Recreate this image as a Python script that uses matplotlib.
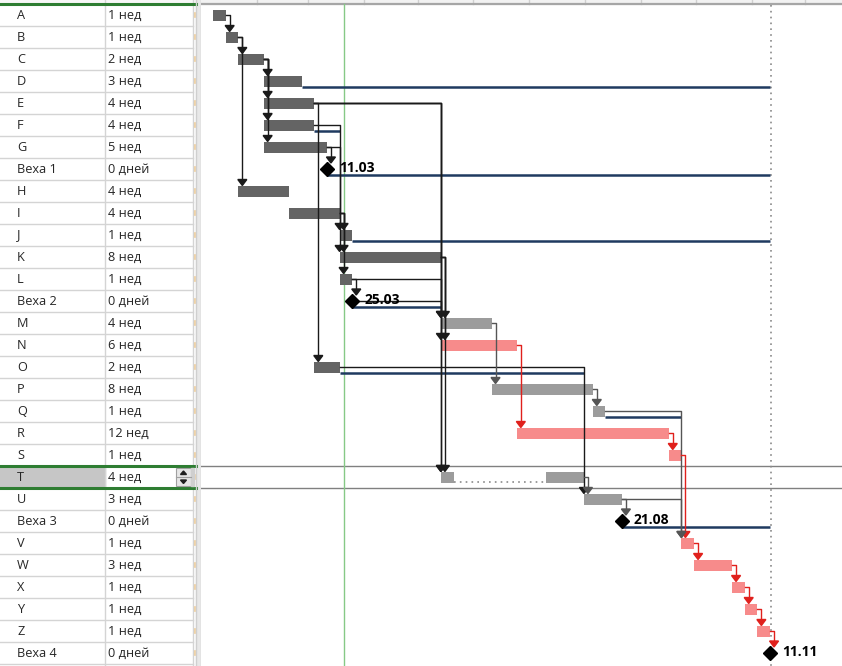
import matplotlib
matplotlib.use("Agg")
import matplotlib.pyplot as plt
from matplotlib.patches import Polygon, Rectangle

plt.rcParams['font.family'] = ['Open Sans', 'DejaVu Sans']

# ---------------- data ----------------
tasks = ["A", "B", "C", "D", "E", "F", "G", "Веха 1", "H", "I", "J", "K", "L", "Веха 2",
         "M", "N", "O", "P", "Q", "R", "S", "T", "U", "Веха 3", "V", "W", "X", "Y", "Z", "Веха 4"]
durations = ["1 нед", "1 нед", "2 нед", "3 нед", "4 нед", "4 нед", "5 нед", "0 дней", "4 нед", "4 нед",
             "1 нед", "8 нед", "1 нед", "0 дней", "4 нед", "6 нед", "2 нед", "8 нед", "1 нед", "12 нед",
             "1 нед", "4 нед", "3 нед", "0 дней", "1 нед", "3 нед", "1 нед", "1 нед", "1 нед", "0 дней"]
starts = [0, 1, 2, 4, 4, 4, 4, 9, 2, 6, 10, 10, 10, 11,
          18, 18, 8, 22, 30, 24, 36, 18, 29.3, 32.3, 37, 38, 41, 42, 43, 44]
weeks = [1, 1, 2, 3, 4, 4, 5, 0, 4, 4, 1, 8, 1, 0,
         4, 6, 2, 8, 1, 12, 1, 4, 3, 0, 1, 3, 1, 1, 1, 0]
# d = dark (done/normal), l = light, c = critical
kind = ["d"] * 14 + ["l", "c", "d", "l", "l", "c", "c", "l", "l", "l", "c", "c", "c", "c", "c", "c"]
split_segments = {"T": [(18, 1), (26.3, 3)]}
milestone_labels = {"Веха 1": "11.03", "Веха 2": "25.03", "Веха 3": "21.08", "Веха 4": "11.11"}
slack_end = {"D": 44, "F": 10, "Веха 1": 44, "J": 44, "Веха 2": 18, "O": 29.3, "Q": 37, "Веха 3": 44}
links = [("A", "B"), ("B", "C"), ("B", "H"), ("C", "D"), ("C", "E"), ("C", "F"), ("C", "G"),
         ("G", "Веха 1"), ("F", "J"), ("G", "K"), ("I", "J"), ("I", "K"), ("I", "L"),
         ("E", "O"), ("E", "M"), ("E", "N"), ("E", "T"), ("K", "M"), ("K", "N"), ("K", "T"),
         ("L", "Веха 2"), ("L", "M"), ("Веха 2", "T"), ("O", "U"), ("M", "P"), ("N", "R"),
         ("P", "Q"), ("Q", "V"), ("R", "S"), ("S", "V"), ("T", "U"), ("U", "Веха 3"), ("U", "V"),
         ("V", "W"), ("W", "X"), ("X", "Y"), ("Y", "Z"), ("Z", "Веха 4")]
header_ticks = [3.48, 7.5, 11.93, 16.19, 20.5, 24.96, 29.4, 33.8, 38.15, 42.6, 46.8]
status_date = 10.35
project_end = 44.1
selected = "T"

bar_color = {"d": "#646464", "l": "#9c9c9c", "c": "#f78b8b"}
link_color = {"d": "#1a1a1a", "l": "#555555", "c": "#e0201c"}
navy = "#1f3a60"

# ---------------- layout ----------------
W, H = 842, 666
ROW_PX, ROW0 = 22, 15
PXW, X0, GL = 12.66, 213, 201
ytop, ybot = -ROW0 / ROW_PX, (H - ROW0) / ROW_PX

def px_w(p):
    return p / PXW

def px_r(p):
    return p / ROW_PX

fig = plt.figure(figsize=(W / 100, H / 100), dpi=100)
axT = fig.add_axes([0, 0, GL / W, 1])
axT.set_xlim(0, GL)
axT.set_ylim(ybot, ytop)
axT.axis('off')
axG = fig.add_axes([GL / W, 0, 1 - GL / W, 1])
axG.set_xlim((GL - X0) / PXW, (W - X0) / PXW)
axG.set_ylim(ybot, ytop)
axG.axis('off')

n = len(tasks)
idx = {t: i for i, t in enumerate(tasks)}
sel = idx[selected]

# ---------------- table ----------------
axT.add_patch(Rectangle((0, ytop), 196, -0.5 - ytop, color="#f7f7f7", zorder=0))
axT.add_patch(Rectangle((0, sel - 0.5), 105, 1, color="#c6c6c6", zorder=0))
for r in range(n):
    axT.plot([0, 193], [r + 0.5, r + 0.5], color="#d4d4d4", lw=1, zorder=1)
    axT.text(17, r, tasks[r], va="center", ha="left", fontsize=9.2, color="#262626")
    axT.text(108, r, durations[r], va="center", ha="left", fontsize=9.2, color="#262626")
    axT.plot([195, 195], [r - px_r(2), r + px_r(2)], color="#f3c98a", lw=1.2, zorder=2)
axT.plot([105, 105], [-0.5, ybot], color="#d4d4d4", lw=1)
axT.plot([193, 193], [ytop, ybot], color="#d4d4d4", lw=1)
axT.plot([105, 105], [ytop, -0.5], color="#d4d4d4", lw=1)
axT.plot([0, 196], [-0.5, -0.5], color="#2e7d32", lw=2.2, zorder=3)
axT.plot([0, 196], [sel - 0.5, sel - 0.5], color="#2e7d32", lw=2.2, zorder=3)
axT.plot([0, 196], [sel + 0.5, sel + 0.5], color="#2e7d32", lw=2.2, zorder=3)
axT.add_patch(Rectangle((196, ytop), 5, ybot - ytop, color="#e8e8e8", zorder=2))
axT.plot([196, 196], [ytop, ybot], color="#cfcfcf", lw=1, zorder=3)
axT.plot([200.5, 200.5], [ytop, ybot], color="#cfcfcf", lw=1, zorder=3)
# spinner on selected duration cell
axT.add_patch(Rectangle((176, sel - px_r(9)), 15, px_r(18), facecolor="#e6e6e6",
                        edgecolor="#a0a0a0", lw=0.8, zorder=4))
axT.add_patch(Rectangle((191, sel - px_r(9)), 3, px_r(18), color="#cfcfcf", zorder=4))
axT.plot([176, 191], [sel, sel], color="#a0a0a0", lw=0.8, zorder=5)
axT.add_patch(Polygon([(180.5, sel - px_r(2.5)), (186.5, sel - px_r(2.5)), (183.5, sel - px_r(6))],
                      color="#202020", zorder=5))
axT.add_patch(Polygon([(180.5, sel + px_r(3)), (186.5, sel + px_r(3)), (183.5, sel + px_r(6.5))],
                      color="#202020", zorder=5))

# ---------------- gantt background ----------------
x_lo, x_hi = axG.get_xlim()
axG.add_patch(Rectangle((x_lo, ytop), x_hi - x_lo, -0.5 - ytop, color="#f2f2f2", zorder=0))
for t in header_ticks:
    axG.plot([t, t], [ytop, -0.5], color="#d0d0d0", lw=1, zorder=1)
axG.plot([x_lo, x_hi], [-0.5, -0.5], color="#a6a6a6", lw=1.6, zorder=1)
axG.plot([x_lo, x_hi], [sel - 0.5, sel - 0.5], color="#808080", lw=1, zorder=1)
axG.plot([x_lo, x_hi], [sel + 0.5, sel + 0.5], color="#808080", lw=1, zorder=1)
axG.plot([status_date, status_date], [-0.5, ybot], color="#86c986", lw=1, zorder=1)
axG.plot([project_end, project_end], [-0.45, ybot], color="#8a8a8a", lw=1.2,
         linestyle=(0, (1, 2.5)), zorder=1)


def task_end(t):
    if t in split_segments:
        s, d = split_segments[t][-1]
        return s + d
    i = idx[t]
    return starts[i] + weeks[i]


# slack lines
for t, e in slack_end.items():
    i = idx[t]
    axG.plot([task_end(t), e], [i + px_r(5.5), i + px_r(5.5)], color=navy, lw=1.8,
             solid_capstyle="butt", zorder=2)

# bars
bh = px_r(11)
for i, t in enumerate(tasks):
    if weeks[i] == 0:
        continue
    segs = split_segments.get(t, [(starts[i], weeks[i])])
    axG.barh([i] * len(segs), [d for s, d in segs], left=[s for s, d in segs], height=bh,
             color=bar_color[kind[i]], zorder=3)
    if len(segs) > 1:
        for (s1, d1), (s2, d2) in zip(segs[:-1], segs[1:]):
            axG.plot([s1 + d1, s2], [i + px_r(5), i + px_r(5)], color="#8a8a8a", lw=1.2,
                     linestyle=(0, (1, 2.5)), zorder=3)

# links
for p, s in links:
    ip, is_ = idx[p], idx[s]
    col = link_color[kind[ip]]
    pe = task_end(p)
    x_start = pe + (px_w(5) if weeks[ip] == 0 else 0)
    ss = starts[is_]
    if abs(ss - pe) < 1e-6:
        xv = pe + px_w(4)
    else:
        xv = max(ss, pe + px_w(4))
    tip = is_ - (px_r(6) if weeks[is_] == 0 else px_r(5.5))
    ah, aw = px_r(6), px_w(4.5)
    axG.plot([x_start, xv, xv], [ip, ip, tip - ah + px_r(0.5)], color=col, lw=1.0,
             solid_joinstyle="round", zorder=4)
    axG.add_patch(Polygon([(xv - aw, tip - ah), (xv + aw, tip - ah), (xv, tip)], color=col, zorder=4))

# milestones
for t, lab in milestone_labels.items():
    i = idx[t]
    axG.plot([starts[i]], [i], marker="D", markersize=7.5, color="black", zorder=5)
    axG.text(starts[i] + px_w(12), i - px_r(1.5), lab, fontsize=10, fontweight="bold",
             va="center", ha="left", color="black", zorder=5)

fig.savefig("out.png", dpi=100)
